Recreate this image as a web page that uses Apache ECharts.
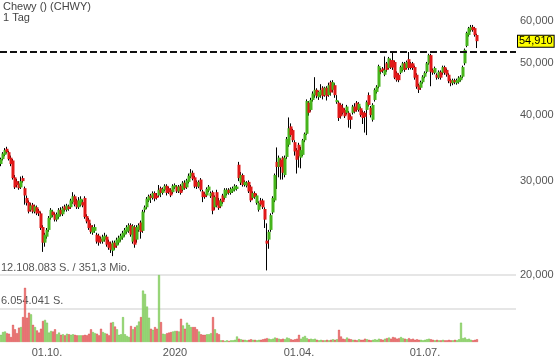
<!DOCTYPE html>
<html><head><meta charset="utf-8">
<script src="https://cdn.jsdelivr.net/npm/echarts@6/dist/echarts.min.js"></script>
<style>html,body{margin:0;padding:0;background:#fff}#c{width:560px;height:363px}</style>
</head><body><div id="c"></div>
<script>
// ---- DATA ----
const titleText = 'Chewy () (CHWY)';
const subText = '1 Tag';
const startDate = '2019-08-28';
const holidays = ['2019-09-02','2019-11-28','2019-12-25','2020-01-01','2020-01-20','2020-02-17','2020-04-10','2020-05-25','2020-07-03','2020-09-07'];
const slotCount = 258;
const tickDates = ['2019-10-01','2020-01-02','2020-04-01','2020-07-01'];
const tickLabels = ['01.10.','2020','01.04.','01.07.'];
const priceTicks = [20,30,40,50,60];
const priceTickLabels = ['20,000','30,000','40,000','50,000','60,000'];
const lastPrice = 54.91;
const lastPriceLabel = '54,910';
const resistance = 52.48;
const volTicks = [12.108083, 6.054041];
const volTickLabels = ['12.108.083 S. / 351,3 Mio.', '6.054.041 S.'];
// [open, close, low, high]
const ohlc = [
[32.3,33.0,32.0,33.2],[33.0,33.8,32.8,34.0],[33.6,34.3,33.4,34.6],[34.5,34.0,33.8,34.8],[34.0,33.0,32.8,34.2],
[33.2,32.3,32.0,33.5],[32.8,30.4,30.2,33.0],[30.5,29.2,29.0,30.8],[30.0,29.5,29.2,30.3],[29.7,29.1,28.9,30.0],
[29.2,30.0,29.0,30.6],[30.4,30.0,29.8,30.7],[29.1,28.2,27.1,29.3],[27.9,27.3,27.0,28.2],[27.4,26.3,26.1,27.6],
[26.5,27.0,26.3,27.3],[27.1,26.3,26.1,27.3],[26.3,26.9,26.1,27.1],[26.8,26.1,25.9,27.0],[26.4,26.1,25.8,26.6],
[26.1,24.5,24.3,26.3],[24.6,23.0,22.1,24.8],[23.0,23.8,22.6,24.0],[23.6,24.3,23.4,24.5],[24.3,25.6,24.1,25.8],
[25.6,26.5,25.4,26.7],[26.3,25.9,25.7,26.5],[26.0,25.4,25.2,26.2],[25.4,26.0,25.2,26.2],[25.7,26.5,25.5,26.7],
[26.5,26.0,25.8,26.8],[26.0,26.7,25.8,26.9],[26.9,26.5,26.3,27.1],[26.5,27.0,26.3,27.2],[26.9,26.6,26.4,27.1],
[26.8,27.6,26.6,27.8],[27.4,28.1,27.2,28.6],[28.1,27.1,26.9,28.3],[27.6,26.8,26.6,27.8],[26.8,27.6,26.6,28.0],
[27.1,27.8,26.9,28.1],[27.4,27.0,26.8,27.7],[27.9,25.7,25.5,28.1],[25.8,25.2,25.0,26.0],[25.4,24.5,24.3,25.6],
[24.8,24.1,23.9,25.0],[24.0,24.6,23.8,24.8],[24.2,24.6,24.0,24.9],[23.8,23.1,22.9,24.0],[23.7,23.0,22.7,23.9],
[23.4,23.1,22.9,23.6],[23.1,23.6,22.9,23.8],[23.3,23.7,23.1,24.0],[23.6,22.8,22.6,23.8],[23.1,22.5,22.3,23.3],
[22.9,22.3,22.0,23.1],[22.2,23.0,21.7,23.2],[23.0,22.5,22.3,23.2],[22.7,23.3,22.5,23.5],[23.0,23.5,22.8,23.7],
[23.3,23.7,23.1,23.9],[23.5,24.0,23.3,24.2],[23.8,24.3,23.6,24.5],[24.1,24.6,23.9,24.8],[24.2,24.8,24.0,25.0],
[24.8,23.8,23.6,25.0],[23.1,24.7,22.9,24.9],[24.6,22.8,22.5,24.8],[23.3,24.6,23.0,24.8],[24.3,24.8,24.1,25.0],
[25.1,24.1,23.4,25.3],[24.2,26.3,24.0,26.5],[26.5,26.8,26.2,27.0],[26.8,27.8,26.6,28.0],[27.6,28.1,27.4,28.3],
[28.2,27.9,27.3,28.4],[27.9,28.5,27.7,28.7],[28.5,27.8,27.5,28.7],[28.2,27.9,27.7,28.5],[28.2,28.9,28.0,29.5],
[29.1,28.5,28.0,29.3],[28.5,29.0,28.3,29.2],[28.9,29.4,28.7,29.6],[29.4,28.5,28.2,29.6],[29.1,28.6,28.4,29.3],
[28.9,28.2,28.0,29.1],[28.6,29.4,28.4,29.6],[29.2,29.5,29.0,29.7],[29.3,28.7,28.5,29.5],[28.7,29.3,28.5,29.5],
[29.4,28.5,28.3,29.6],[28.9,29.8,28.7,30.0],[29.8,29.1,28.9,30.1],[29.2,30.1,29.0,30.3],[29.9,30.7,29.7,31.0],
[30.6,31.1,30.4,31.6],[31.1,30.3,30.1,31.4],[30.5,29.3,29.1,30.7],[29.9,29.3,29.0,30.1],[29.3,29.9,29.1,30.1],
[30.2,28.9,28.7,30.4],[28.7,28.0,27.4,28.9],[28.4,28.0,27.8,28.6],[28.2,29.0,28.0,29.2],[28.8,29.3,28.6,29.5],
[28.1,28.5,27.9,28.7],[28.6,26.4,26.0,28.8],[26.8,28.0,26.5,28.2],[28.6,27.0,26.8,28.9],[27.6,26.7,26.5,27.9],
[26.9,27.6,26.7,27.8],[28.2,27.4,27.2,28.4],[27.9,28.9,27.7,29.1],[28.4,28.9,28.2,29.1],[28.9,28.5,28.3,29.1],
[28.5,29.0,28.3,29.2],[28.7,29.1,28.5,29.3],[28.9,29.4,28.7,29.6],[29.0,29.3,28.8,29.5],[32.2,30.4,30.0,32.6],
[29.8,30.8,29.5,31.2],[30.8,29.5,29.3,31.0],[29.5,29.9,29.3,30.1],[29.4,29.8,29.2,30.0],[29.9,28.7,28.5,30.1],
[29.3,27.6,27.4,29.5],[27.9,28.5,27.7,28.7],[28.5,28.0,27.8,28.7],[27.3,28.2,27.1,28.4],[26.5,27.3,26.3,27.5],
[27.6,27.1,26.9,27.9],[27.6,26.8,26.6,27.8],[26.6,25.4,24.5,26.8],[23.2,22.9,20.4,25.0],[23.3,24.1,22.4,24.3],
[24.3,25.9,24.1,26.1],[26.2,27.9,26.0,28.1],[27.6,30.8,27.4,31.0],[32.6,31.9,29.0,34.7],[31.9,33.2,30.5,33.5],
[32.9,31.9,30.2,33.1],[33.2,31.1,30.2,33.4],[30.8,33.2,30.5,33.5],[33.3,36.0,33.0,36.3],[35.1,37.7,34.8,39.5],
[38.0,36.6,36.3,38.5],[37.4,35.8,35.5,37.6],[35.5,34.1,33.5,35.8],[34.3,32.9,31.0,34.6],[35.1,33.4,31.8,35.4],
[33.2,34.3,31.7,34.8],[33.6,35.8,33.4,36.0],[35.8,36.8,35.5,37.0],[36.8,42.4,36.6,42.7],[42.1,40.3,39.8,42.4],
[40.8,42.6,40.5,43.0],[42.6,43.8,42.3,44.2],[43.5,44.5,43.0,47.0],[44.5,43.3,42.9,44.8],[43.1,44.1,42.6,44.3],
[43.5,44.5,43.0,45.6],[44.9,43.3,42.7,45.2],[43.5,44.9,43.2,45.1],[44.9,43.3,42.5,45.2],[43.5,45.4,43.2,45.9],
[46.0,44.0,43.4,46.3],[44.5,46.0,44.0,46.4],[45.4,43.5,43.0,45.8],[42.2,42.6,41.9,43.5],[42.1,39.4,38.9,42.4],
[41.7,39.7,39.3,42.0],[41.2,40.3,40.0,41.9],[40.8,39.7,39.4,41.1],[40.3,41.4,40.0,41.7],[40.3,39.1,37.8,40.6],
[39.7,39.1,37.6,40.0],[40.3,41.4,40.0,41.7],[41.4,40.5,40.2,42.0],[42.1,40.8,40.5,42.4],[40.8,41.9,40.5,42.2],
[41.1,39.9,39.6,41.4],[40.4,39.4,38.4,40.7],[40.3,39.6,37.0,40.6],[40.8,42.2,36.6,42.5],[43.5,41.7,41.4,44.0],
[41.2,39.9,39.5,41.5],[39.1,41.7,38.8,42.0],[42.6,44.5,42.3,44.8],[44.1,45.1,43.8,45.4],[45.1,49.3,44.8,49.6],
[48.5,48.1,47.6,48.9],[48.8,48.3,47.9,49.1],[47.5,48.5,47.2,51.4],[49.9,48.5,48.1,50.2],[48.9,51.0,48.6,51.3],
[50.6,49.0,48.7,50.9],[50.6,49.0,48.5,52.4],[50.2,46.9,46.6,50.5],[47.9,46.4,46.1,48.2],[47.5,46.4,46.0,47.8],
[47.9,49.1,47.6,49.4],[48.5,49.9,48.2,50.2],[49.9,48.5,48.1,50.2],[48.9,50.2,48.6,50.5],[50.8,48.9,48.5,52.4],
[49.9,48.9,48.6,50.2],[49.9,48.9,48.5,50.2],[49.1,46.9,46.5,49.4],[47.5,45.1,44.7,47.8],[45.4,44.5,43.9,45.7],
[44.9,46.0,44.5,46.3],[46.0,47.1,45.7,47.4],[47.1,47.9,46.8,48.2],[48.1,49.9,47.8,50.2],[49.9,51.7,49.6,52.0],
[51.7,48.1,45.2,52.0],[48.5,47.9,47.5,48.8],[47.9,48.9,47.6,49.2],[47.5,46.9,46.5,47.8],[46.9,48.1,46.6,48.4],
[48.1,46.9,46.5,48.4],[47.9,49.1,47.5,49.4],[49.1,47.9,47.5,49.4],[48.5,47.5,47.1,48.8],[47.5,46.2,45.8,47.8],
[46.4,45.8,45.2,46.7],[45.8,46.4,45.4,46.7],[46.4,46.0,45.6,46.7],[45.8,46.4,45.5,46.7],[46.0,46.9,45.7,47.2],
[46.4,47.1,46.1,47.4],[47.1,49.1,46.8,49.4],[49.9,52.9,49.5,53.2],[53.8,56.9,53.5,57.2],[56.4,58.1,56.0,58.4],
[57.6,58.4,57.2,58.9],[58.4,57.6,57.2,58.9],[58.1,56.4,56.0,58.4],[56.4,54.91,53.3,56.7]
];
// volume in million shares
const volumes = [
1.3,1.8,1.9,1.6,1.5,0.9,3.1,2.3,1.6,2.6,
2.7,4.5,9.8,4.4,5.3,5.0,3.1,2.7,2.1,1.7,
2.4,3.8,4.0,3.5,1.7,2.0,1.9,2.3,1.4,1.7,
1.3,1.4,1.2,1.5,1.4,1.3,1.4,1.3,1.2,1.2,
1.2,1.2,1.3,1.2,1.5,2.3,1.8,1.6,1.5,1.2,
2.4,1.8,1.6,1.5,1.2,3.5,3.6,2.8,2.3,1.3,
1.4,4.5,1.4,1.1,0.9,2.9,2.3,2.7,3.0,3.7,
4.5,9.3,8.7,6.4,4.4,2.4,2.2,2.7,2.4,12.108083,
3.6,1.5,1.4,1.6,1.7,1.8,1.9,2.0,2.0,1.9,
4.2,3.0,2.4,3.5,3.1,2.7,2.7,2.7,2.3,1.9,
1.4,1.3,1.3,1.4,1.4,1.6,4.5,2.3,1.6,1.4,
0.3,0.3,0.2,0.3,0.2,0.3,0.3,0.4,1.0,0.6,
0.5,0.4,0.4,0.3,0.4,0.5,0.4,0.4,0.3,0.4,
0.4,0.5,0.6,0.7,0.6,0.5,0.6,0.8,0.7,0.6,
0.5,0.6,0.5,0.8,0.7,0.5,0.4,0.5,0.6,1.3,
0.6,0.9,1.1,0.7,0.5,0.6,0.5,0.6,0.4,0.3,
0.4,0.3,0.3,0.4,0.3,0.4,0.5,0.4,0.5,2.2,
1.0,0.6,0.5,0.8,0.6,0.5,0.4,0.4,0.3,0.5,
0.4,0.4,0.6,0.5,0.4,0.3,0.4,0.5,0.4,0.6,
0.5,0.4,0.6,0.7,0.8,0.6,0.9,0.8,0.6,0.7,
0.9,0.7,0.6,0.5,0.7,0.5,0.6,0.4,0.5,0.4,
0.4,0.3,0.4,0.5,0.6,0.5,0.4,0.3,0.4,0.3,
0.3,0.4,0.3,0.3,0.4,0.3,0.3,0.4,0.3,0.5,
3.5,0.7,0.8,0.5,0.6,0.4,0.3,0.4,0.5
];

// ---- BUILD ----
function buildDates() {
  const out = [];
  const d = new Date(startDate + 'T12:00:00Z');
  while (out.length < slotCount) {
    const s = d.toISOString().slice(0, 10);
    const wd = d.getUTCDay();
    if (wd !== 0 && wd !== 6 && holidays.indexOf(s) < 0) out.push(s);
    d.setUTCDate(d.getUTCDate() + 1);
  }
  return out;
}
const dates = buildDates();
const FONT = "'Liberation Sans', Arial, sans-serif";
const UP = '#46b41c', DOWN = '#e01818';
const VUP = '#97d671', VDOWN = '#ec7272', VUPB = '#6fc24a', VDOWNB = '#d94a4a';
const HIDDEN = { color: 'rgba(0,0,0,0)', width: 0 };

const bodies = ohlc.map(r => [r[0], r[1], Math.min(r[0], r[1]), Math.max(r[0], r[1])]);
const volData = volumes.map((v, i) => {
  const up = ohlc[i][1] >= ohlc[i][0];
  return { value: v, itemStyle: { color: up ? VUP : VDOWN, borderColor: up ? VUPB : VDOWNB } };
});

const chart = echarts.init(document.getElementById('c'), null, { renderer: 'canvas' });
chart.setOption({
  animation: false,
  backgroundColor: '#fff',
  title: {
    text: titleText, subtext: subText, left: 1, top: 0, padding: [1, 2], itemGap: 0,
    textStyle: { fontFamily: FONT, fontSize: 11, fontWeight: 'normal', color: '#444', lineHeight: 11 },
    subtextStyle: { fontFamily: FONT, fontSize: 11, color: '#444', lineHeight: 11 }
  },
  grid: [
    { left: 0, right: 44, top: 0, height: 275 },
    { left: 0, right: 44, top: 275, height: 67 }
  ],
  xAxis: [
    { type: 'category', gridIndex: 0, data: dates, show: false, boundaryGap: true },
    { type: 'category', gridIndex: 1, data: dates, boundaryGap: true,
      axisLine: { show: false }, axisTick: { show: false }, splitLine: { show: false },
      axisLabel: {
        interval: (idx, val) => tickDates.indexOf(val) >= 0,
        formatter: (val) => { const k = tickDates.indexOf(val); return k >= 0 ? tickLabels[k] : ''; },
        color: '#555', fontSize: 11, fontFamily: FONT, margin: 5
      } }
  ],
  yAxis: [
    { type: 'log', gridIndex: 0, min: 20, max: 65.6, show: false, splitLine: { show: false } },
    { type: 'value', gridIndex: 1, min: 0, max: volTicks[0] * 1.001, show: false, splitLine: { show: false } }
  ],
  series: [
    {
      type: 'bar', xAxisIndex: 1, yAxisIndex: 1, data: volData, barWidth: 2,
      itemStyle: { borderWidth: 0.5 },
      markLine: {
        silent: true, symbol: 'none', animation: false, z: 1,
        lineStyle: { color: '#dedede', width: 1.5, type: 'solid' },
        label: { position: 'insideStartTop', distance: [1, 2], color: '#555', fontSize: 11, fontFamily: FONT },
        data: volTicks.map((v, k) => ({ yAxis: v, label: { formatter: volTickLabels[k] } }))
      }
    },
    {
      type: 'candlestick', xAxisIndex: 0, yAxisIndex: 0, data: ohlc, barWidth: 0.01,
      itemStyle: { color: '#000', color0: '#000', borderColor: '#000', borderColor0: '#000', borderWidth: 1 },
      markLine: {
        silent: true, symbol: 'none', animation: false,
        data: [
          { yAxis: resistance, lineStyle: { color: '#111', width: 2, type: [7, 3] }, label: { show: false } },
          { yAxis: lastPrice, lineStyle: HIDDEN,
            label: { show: true, position: 'end', distance: 2, formatter: lastPriceLabel, color: '#000', fontSize: 11, fontFamily: FONT,
              backgroundColor: '#ffff00', borderColor: '#000', borderWidth: 1, padding: [0, 1, 0, 1], lineHeight: 11 } }
        ]
      }
    },
    {
      type: 'candlestick', xAxisIndex: 0, yAxisIndex: 0, data: bodies, barWidth: 3,
      itemStyle: { color: UP, color0: DOWN, borderColor: UP, borderColor0: DOWN, borderWidth: 0 },
      markLine: {
        silent: true, symbol: 'none', animation: false,
        lineStyle: HIDDEN,
        label: { show: true, position: 'end', distance: 4, color: '#555', fontSize: 11, fontFamily: FONT },
        data: priceTicks.map((v, k) => ({ yAxis: v, label: { formatter: priceTickLabels[k] } }))
      }
    }
  ]
});
</script></body></html>
